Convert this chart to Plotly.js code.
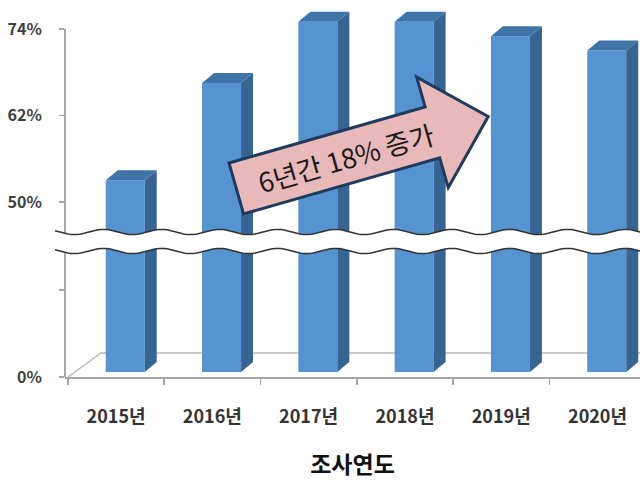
<!DOCTYPE html>
<html><head><meta charset="utf-8">
<script src="https://cdn.plot.ly/plotly-3.0.1.min.js"></script>
<style>html,body{margin:0;padding:0;background:#fff}#chart{width:640px;height:480px}</style>
</head><body><div id="chart"></div>
<script>
// ---- data ----
const years = ['2015년', '2016년', '2017년', '2018년', '2019년', '2020년'];
const rates = [53, 66.5, 75, 75, 73, 71];
const upperTickVals = [50, 62, 74];
const upperTickText = ['50%', '62%', '74%'];
const lowerTickVals = [0, 25];
const lowerTickText = ['0%', ''];
const xTitle = '조사연도';
const arrowText = '6년간 18% 증가';

// ---- geometry / style ----
const W = 640, H = 480, M = {l: 65, r: 0, t: 10, b: 103};
const PW = W - M.l - M.r, PH = H - M.t - M.b;
const px = x => (x - M.l) / PW;
const py = y => (H - M.b - y) / PH;
const baseY = H - M.b;            // 377
const breakPx = 243;
const split = py(breakPx);
const upPx = 7.21, up50 = 202;    // px per %, pixel of 50%
const upperRange = [50 - (breakPx - up50) / upPx, 50 + (up50 - M.t) / upPx];
const lowPx = 3.48;
const lowerRange = [0, (baseY - breakPx) / lowPx];
const lift = 5;                   // 3D floor depth of bar base
const lowerBarRange = [0, (baseY - lift - breakPx) / lowPx];
const xRange = [-0.53, 5.441];
const catPx = PW / (xRange[1] - xRange[0]);
const barW = 0.405, barOff = -0.107;
const xL = barOff * catPx, xR = (barOff + barW) * catPx, dx = 12, dy = 10;
const frontC = '#5594d0', topC = '#3f74a9', sideC = '#366593';
const axisC = '#a6a6a6';
const tickFont = {family: 'Noto Sans CJK KR, sans-serif', size: 16, color: '#404040', weight: 'bold'};

const traces = [
  {type: 'bar', x: years, y: rates, xaxis: 'x', yaxis: 'y', width: barW, offset: barOff,
   marker: {color: frontC}, hoverinfo: 'skip', showlegend: false},
  {type: 'bar', x: years, y: rates, xaxis: 'x', yaxis: 'y2', width: barW, offset: barOff,
   marker: {color: frontC}, hoverinfo: 'skip', showlegend: false},
  {type: 'scatter', mode: 'markers', x: [years[0]], y: [lowerTickVals[0]], xaxis: 'x', yaxis: 'y3',
   marker: {opacity: 0}, hoverinfo: 'skip', showlegend: false}
];

const shapes = [];
// floor (3D)
shapes.push({type: 'path', xref: 'paper', yref: 'paper', layer: 'below',
  path: `M ${px(68)},${py(377)} L ${px(101)},${py(353)} L ${px(650)},${py(353)}`,
  line: {color: '#b8b8b8', width: 1.5}});
// y axis line
shapes.push({type: 'line', xref: 'paper', yref: 'paper', x0: 0, x1: 0, y0: 0, y1: py(29),
  line: {color: axisC, width: 2}});
// 3D faces
years.forEach((c, i) => {
  shapes.push({type: 'path', xref: 'x', yref: 'y2', xsizemode: 'pixel', ysizemode: 'pixel',
    xanchor: c, yanchor: rates[i],
    path: `M ${xR},0 L ${xR + dx},${dy} L ${xR + dx},-600 L ${xR},-600 Z`,
    fillcolor: sideC, line: {width: 0}});
  shapes.push({type: 'path', xref: 'x', yref: 'y2', xsizemode: 'pixel', ysizemode: 'pixel',
    xanchor: c, yanchor: rates[i],
    path: `M ${xL},0 L ${xL + dx},${dy} L ${xR + dx},${dy} L ${xR},0 Z`,
    fillcolor: topC, line: {width: 0}});
  shapes.push({type: 'path', xref: 'x', yref: 'y', xsizemode: 'pixel', ysizemode: 'pixel',
    xanchor: c, yanchor: 0,
    path: `M ${xR},0 L ${xR + dx},${dy} L ${xR + dx},600 L ${xR},600 Z`,
    fillcolor: sideC, line: {width: 0}});
});
// axis break
const wave = (x, b) => b + 2.6 * Math.sin(2 * Math.PI * (x - 60) / 58);
const xs = [];
for (let x = 55; x <= 646; x += 2) xs.push(x);
const upW = xs.map(x => [px(x), py(wave(x, 232))]);
const loW = xs.map(x => [px(x), py(wave(x, 251))]);
const toPath = pts => pts.map((p, k) => (k ? 'L ' : 'M ') + p[0] + ',' + p[1]).join(' ');
shapes.push({type: 'path', xref: 'paper', yref: 'paper',
  path: toPath(upW.concat(loW.slice().reverse())) + ' Z', fillcolor: '#ffffff', line: {width: 0}});
shapes.push({type: 'path', xref: 'paper', yref: 'paper', path: toPath(upW), line: {color: '#333', width: 1.5}});
shapes.push({type: 'path', xref: 'paper', yref: 'paper', path: toPath(loW), line: {color: '#333', width: 1.5}});
// block arrow
const A = [229, 163];
const len0 = Math.hypot(196, -56);
const u = [196 / len0, -56 / len0], n = [-u[1], u[0]];
const sw = 53, sl = 204, barb = 31, hl = 58;
const add = (p, v, k) => [p[0] + v[0] * k, p[1] + v[1] * k];
const B = add(A, u, sl), G = add(A, n, sw), F = add(B, n, sw);
const Cb = add(B, n, -barb), E = add(F, n, barb), D = add(add(B, n, sw / 2), u, hl);
const arrowPts = [A, B, Cb, D, E, F, G].map(p => [px(p[0]), py(p[1])]);
shapes.push({type: 'path', xref: 'paper', yref: 'paper', path: toPath(arrowPts) + ' Z',
  fillcolor: '#e8b9b8', line: {color: '#1f3a5f', width: 3}});
const T = add(add(A, n, sw / 2), u, 114);

const layout = {
  width: W, height: H, margin: M, paper_bgcolor: '#fff', plot_bgcolor: 'rgba(0,0,0,0)',
  showlegend: false, barmode: 'overlay',
  xaxis: {type: 'category', range: xRange, anchor: 'y3', showline: true, linecolor: axisC, linewidth: 2,
    ticks: 'outside', tickson: 'boundaries', ticklen: 6, tickcolor: axisC, tickwidth: 1.5,
    showgrid: false, tickfont: {family: 'Noto Sans CJK KR, sans-serif', size: 18, color: '#333', weight: 'bold'},
    ticklabelstandoff: 22, fixedrange: true,
    title: {text: xTitle, standoff: 36, font: {family: 'Noto Sans CJK KR, sans-serif', size: 23, color: '#111', weight: 'bold'}}},
  yaxis: {domain: [lift / PH, split], range: lowerBarRange, visible: false, fixedrange: true},
  yaxis2: {domain: [split, 1], range: upperRange, anchor: 'x', showline: false, showgrid: false, zeroline: false,
    tickvals: upperTickVals, ticktext: upperTickText, ticks: 'outside', ticklen: 5, tickcolor: axisC, tickwidth: 1.5,
    tickfont: tickFont, ticklabelstandoff: 14, fixedrange: true},
  yaxis3: {domain: [0, split], range: lowerRange, anchor: 'x', showline: false, showgrid: false, zeroline: false,
    tickvals: lowerTickVals, ticktext: lowerTickText, ticks: 'outside', ticklen: 5, tickcolor: axisC, tickwidth: 1.5,
    tickfont: tickFont, ticklabelstandoff: 14, fixedrange: true},
  shapes: shapes,
  annotations: [{xref: 'paper', yref: 'paper', x: px(T[0]), y: py(T[1]), text: arrowText, showarrow: false,
    textangle: -16, xanchor: 'center', yanchor: 'middle',
    font: {family: 'Noto Sans CJK KR, sans-serif', size: 27, color: '#1a1a1a'}}]
};
Plotly.newPlot('chart', traces, layout, {staticPlot: true, displayModeBar: false});
</script></body></html>
